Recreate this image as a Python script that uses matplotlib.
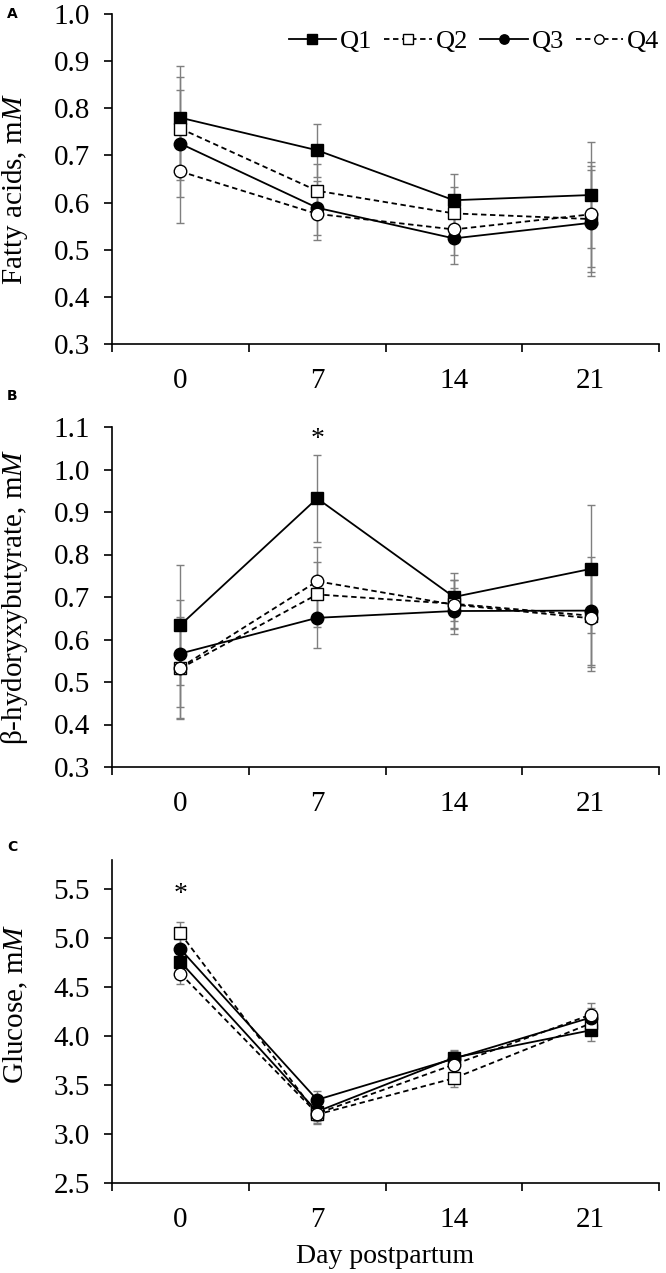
import numpy as np
import matplotlib.pyplot as plt
from matplotlib.ticker import FixedLocator, NullFormatter

days = ["0", "7", "14", "21"]
groups = ["Q1", "Q2", "Q3", "Q4"]

# panel A: fatty acids, mM
fa_mean = {
    "Q1": [0.780, 0.711, 0.605, 0.616],
    "Q2": [0.757, 0.625, 0.577, 0.565],
    "Q3": [0.725, 0.589, 0.524, 0.557],
    "Q4": [0.666, 0.576, 0.543, 0.575],
}
fa_sem = {
    "Q1": [0.109, 0.056, 0.055, 0.113],
    "Q2": [0.110, 0.057, 0.055, 0.112],
    "Q3": [0.113, 0.057, 0.055, 0.112],
    "Q4": [0.109, 0.056, 0.055, 0.112],
}

# panel B: beta-hydroxybutyrate, mM
bhb_mean = {
    "Q1": [0.634, 0.932, 0.700, 0.766],
    "Q2": [0.532, 0.706, 0.684, 0.656],
    "Q3": [0.567, 0.651, 0.667, 0.668],
    "Q4": [0.534, 0.737, 0.682, 0.650],
}
bhb_sem = {
    "Q1": [0.141, 0.103, 0.057, 0.150],
    "Q2": [0.117, 0.076, 0.057, 0.120],
    "Q3": [0.125, 0.070, 0.055, 0.127],
    "Q4": [0.120, 0.080, 0.058, 0.125],
}

# panel C: glucose, mM
glu_mean = {
    "Q1": [4.76, 3.23, 3.78, 4.06],
    "Q2": [5.05, 3.20, 3.57, 4.13],
    "Q3": [4.89, 3.35, 3.77, 4.19],
    "Q4": [4.64, 3.21, 3.71, 4.22],
}
glu_sem = {
    "Q1": [0.10, 0.10, 0.08, 0.11],
    "Q2": [0.12, 0.10, 0.09, 0.11],
    "Q3": [0.10, 0.09, 0.08, 0.10],
    "Q4": [0.11, 0.10, 0.08, 0.12],
}

styles = {
    "Q1": dict(marker="s", mfc="black", ls="-"),
    "Q2": dict(marker="s", mfc="white", ls=(0, (3, 2))),
    "Q3": dict(marker="o", mfc="black", ls="-"),
    "Q4": dict(marker="o", mfc="white", ls=(0, (3, 2))),
}

plt.rcParams["font.family"] = ["Liberation Serif", "DejaVu Serif"]
plt.rcParams["mathtext.fontset"] = "custom"
plt.rcParams["mathtext.it"] = "Liberation Serif:italic"
plt.rcParams["mathtext.rm"] = "Liberation Serif"

FS = 21

fig = plt.figure(figsize=(6.66, 12.73), dpi=100)
W, H = 666, 1273


def add_axes(top_px, bottom_px):
    left, right = 112, 659
    return fig.add_axes([left / W, 1 - bottom_px / H, (right - left) / W,
                         (bottom_px - top_px) / H])


def draw(ax, means, sems, ylim, yticks, ylabel, label_y, star=None):
    x = np.arange(len(days))
    for g in groups:
        ax.errorbar(x, means[g], yerr=sems[g], fmt="none", ecolor="#7f7f7f",
                    elinewidth=1.0, capsize=3, capthick=1.0, zorder=1)
    for i, g in enumerate(groups):
        st = styles[g]
        ax.plot(x, means[g], color="black", lw=1.3, ls=st["ls"],
                marker=st["marker"], ms=9, mfc=st["mfc"], mec="black",
                mew=1.0, label=g, zorder=2 + i)
    ax.set_xlim(-0.5, 3.5)
    ax.set_ylim(*ylim)
    ax.set_yticks(yticks)
    ax.set_yticklabels([f"{t:.1f}" for t in yticks])
    ax.xaxis.set_major_locator(FixedLocator(np.arange(-0.5, 3.6, 1.0)))
    ax.xaxis.set_major_formatter(NullFormatter())
    ax.xaxis.set_minor_locator(FixedLocator(x))
    ax.set_xticklabels(days, minor=True)
    ax.tick_params(axis="x", which="minor", length=0, pad=17, labelsize=FS)
    ax.tick_params(axis="x", which="major", length=6, width=1.2, direction="out")
    ax.tick_params(axis="y", length=6, width=1.2, direction="out",
                   labelsize=FS, pad=10)
    for s in ["top", "right"]:
        ax.spines[s].set_visible(False)
    for s in ["left", "bottom"]:
        ax.spines[s].set_linewidth(1.2)
    ax.set_ylabel(ylabel, fontsize=FS)
    ax.yaxis.set_label_coords(-0.150, label_y)
    if star is not None:
        ax.text(star[0], star[1], "*", ha="center", va="center", fontsize=20)


axA = add_axes(14, 344)
draw(axA, fa_mean, fa_sem, (0.3, 1.0), np.arange(0.3, 1.01, 0.1),
     r"Fatty acids, m$\it{M}$", 0.47)
axA.legend(loc="upper right", ncol=4, frameon=False, fontsize=19,
           handlelength=1.8, handletextpad=0.15, columnspacing=0.45,
           markerscale=0.75, bbox_to_anchor=(1.02, 0.985), borderaxespad=0.0)

axB = add_axes(427, 767)
draw(axB, bhb_mean, bhb_sem, (0.3, 1.1), np.arange(0.3, 1.11, 0.1),
     r"β-hydoryxybutyrate, m$\it{M}$", 0.5, star=(1, 1.07))

axC = add_axes(860, 1183)
draw(axC, glu_mean, glu_sem, (2.5, 5.8), np.arange(2.5, 5.51, 0.5),
     r"Glucose, m$\it{M}$", 0.556, star=(0, 5.45))
axC.set_xlabel("Day postpartum", fontsize=20, labelpad=8)

for lbl, ypx in [("A", 14), ("B", 396), ("C", 847)]:
    fig.text(12 / W, 1 - ypx / H, lbl, fontsize=10, fontweight="bold",
             family="DejaVu Sans", ha="center", va="center")

fig.savefig("out.png", dpi=100)
